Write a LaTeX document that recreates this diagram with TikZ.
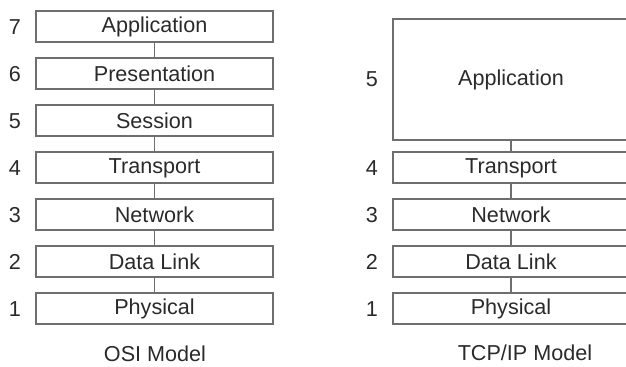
\documentclass[tikz,border=0pt]{standalone}
\usepackage{fontspec}
\setmainfont{Liberation Sans}
\usetikzlibrary{positioning}

\definecolor{boxgray}{HTML}{6E6E6E}
\definecolor{txtgray}{HTML}{2A2A2A}

\tikzset{
  layer/.style={draw=boxgray, line width=1pt, minimum width=118.5pt, minimum height=15.5pt,
    inner sep=0pt, text=txtgray, font=\fontsize{10.8}{13}\selectfont},
  num/.style={inner sep=0pt, text=txtgray, font=\fontsize{10.8}{13}\selectfont},
  link/.style={draw=boxgray, line width=0.8pt},
  caption/.style={inner sep=0pt, text=txtgray, font=\fontsize{10.8}{13}\selectfont}
}

\begin{document}
\begin{tikzpicture}[x=0.5pt, y=-0.5pt]
  \useasboundingbox (0,0) rectangle (626,367);

  % --- OSI stack ---
  \foreach \n/\lbl in {7/Application, 6/Presentation, 5/Session, 4/Transport,
                       3/Network, 2/Data Link, 1/Physical}{
    \node[layer] (osi\n) at (154.5, {27+47*(7-\n)}) {\lbl};
    \node[num] (osinum\n) at (15, {27+47*(7-\n)}) {\n};
  }
  \foreach \n [remember=\n as \p (initially 7)] in {6,...,1}
    \draw[link] (osi\p) -- (osi\n);
  \node[caption] (osicap) at (155, 354) {OSI Model};

  % --- TCP/IP stack ---
  \node[layer, minimum height=60.5pt] (tcp5) at (511, 79.5) {Application};
  \node[num] (tcpnum5) at (372, 79.5) {5};
  \foreach \n/\lbl in {4/Transport, 3/Network, 2/Data Link, 1/Physical}{
    \node[layer] (tcp\n) at (511, {27+47*(7-\n)}) {\lbl};
    \node[num] (tcpnum\n) at (372, {27+47*(7-\n)}) {\n};
  }
  \foreach \n [remember=\n as \p (initially 5)] in {4,...,1}
    \draw[link] (tcp\p) -- (tcp\n);
  \node[caption] (tcpcap) at (525, 353) {TCP/IP Model};
\end{tikzpicture}
\end{document}
